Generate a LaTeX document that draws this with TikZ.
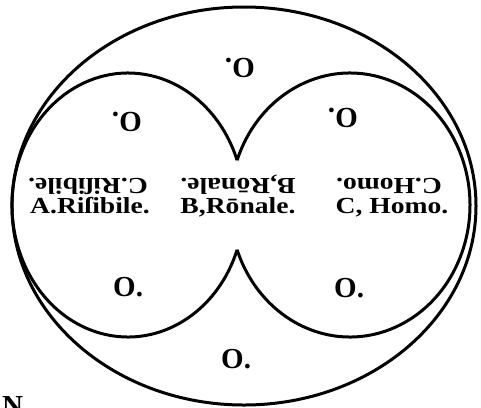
\documentclass[tikz,border=0pt]{standalone}
\usepackage{fontspec}
\setmainfont{Liberation Serif}
\usepackage{xcolor}
\definecolor{ink}{HTML}{000000}
\usepackage{tikz}
\usetikzlibrary{positioning}

\begin{document}
\begin{tikzpicture}[
    x=1pt, y=-1pt,
    draw=ink, text=ink,
    ring/.style={draw=ink, line width=3pt},
    word/.style={font=\bfseries\fontsize{23}{23}\selectfont, xscale=1.2, inner sep=0pt, anchor=base},
    flipword/.style={word, rotate=180},
    nought/.style={font=\bfseries\fontsize{29}{29}\selectfont, inner sep=0pt, anchor=base west},
    flipnought/.style={nought, rotate=180}
]

\useasboundingbox (0,0) rectangle (481,407);

% ── Outer Ellipse ──
\draw[ring] (244,206) ellipse[x radius=232, y radius=199];

% ── Inner Pair (meeting at the two cusps) ──
\coordinate (cuspT) at (237.1,160.2);
\coordinate (cuspB) at (237.1,249.8);

\draw[ring] (cuspB) arc[start angle=19.84, end angle=340.16, x radius=116, y radius=132];
\draw[ring] (cuspT) arc[start angle=-160.16, end angle=160.16, x radius=120, y radius=132];

% ── Upright Terms ──
\node[word] (risA) at (90,213)  {A.Riſibile.};
\node[word] (ronB) at (238,213) {B,Rōnale.};
\node[word] (homC) at (392,213) {C, Homo.};

% ── Inverted Terms ──
\node[flipword] (risC) at (88,178)  {C.Riſibile.};
\node[flipword] (ronBi) at (238,178) {B,Rōnale.};
\node[flipword] (homCi) at (389,178) {C.Homo.};

% ── Noughts ──
\node[flipnought] (oTop) at (255,58)  {O.};
\node[flipnought] (oUL)  at (142,112) {O.};
\node[flipnought] (oUR)  at (358,108) {O.};
\node[nought] (oLL)  at (113,296) {O.};
\node[nought] (oLR)  at (334,297) {O.};
\node[nought] (oBot) at (221,368) {O.};

% ── Cut-off Letter ──
\node[font=\bfseries\fontsize{29}{29}\selectfont, inner sep=0pt, anchor=north west] (cut) at (2,396) {N};

\end{tikzpicture}
\end{document}
